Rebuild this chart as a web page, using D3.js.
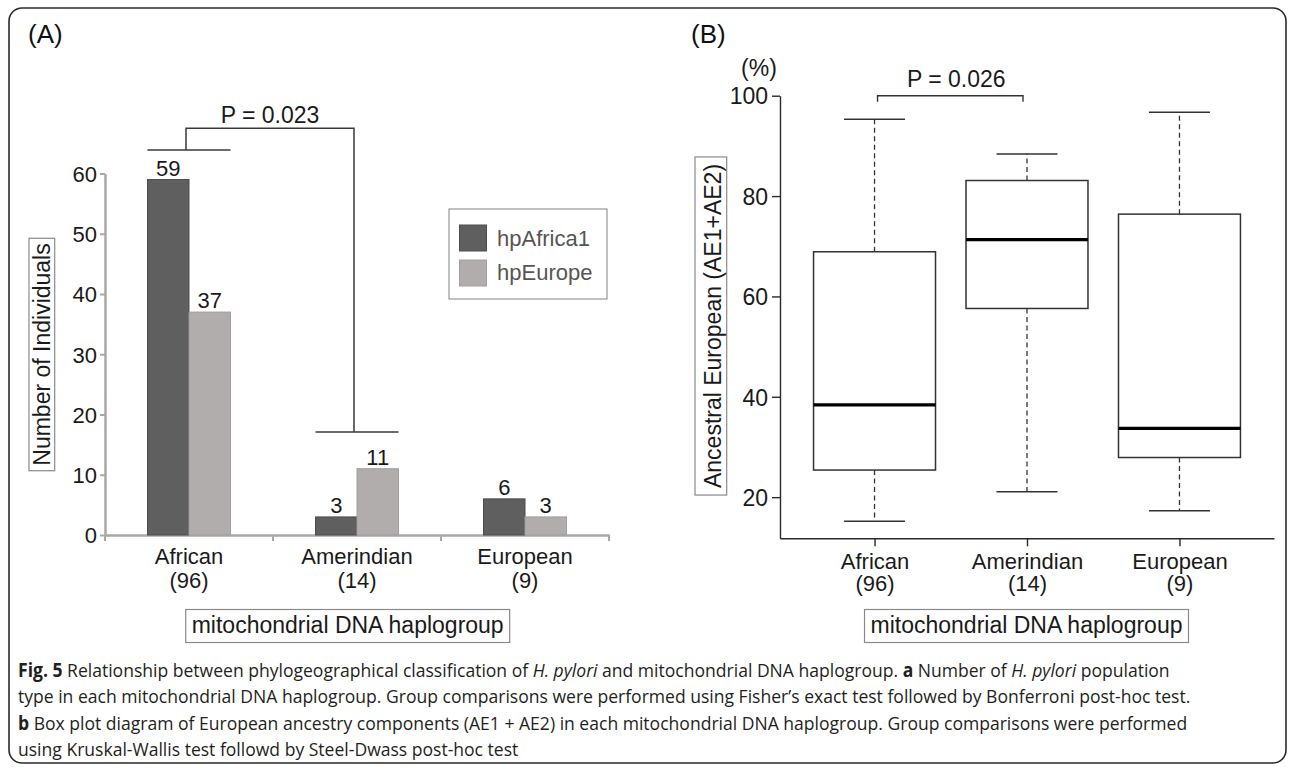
<!DOCTYPE html>
<html><head><meta charset="utf-8">
<script src="https://cdn.jsdelivr.net/npm/d3@7"></script>
<style>
body{margin:0;background:#fff;}
svg{display:block;}
</style></head><body>
<svg id="chart" width="1292" height="770"></svg>
<script>
// ---------- data ----------
const categories = ["African", "Amerindian", "European"];
const groupSizes = [96, 14, 9];
const seriesNames = ["hpAfrica1", "hpEurope"];
const hpAfrica1 = [59, 3, 6];
const hpEurope = [37, 11, 3];
const countTicks = [0, 10, 20, 30, 40, 50, 60];
const pctTicks = [20, 40, 60, 80, 100];
const whiskerLow = [15.2, 21.1, 17.3];
const quart1 = [25.4, 57.6, 27.9];
const medians = [38.4, 71.3, 33.7];
const quart3 = [68.9, 83.1, 76.4];
const whiskerHigh = [95.3, 88.4, 96.7];
const bracketALevels = [63.9, 17.1, 67.5]; // African bar-group, Amerindian group, top
const bracketBLevel = 100;
const pLabelA = "P = 0.023";
const pLabelB = "P = 0.026";
const xTitle = "mitochondrial DNA haplogroup";
const yTitleA = "Number of Individuals";
const yTitleB = "Ancestral European (AE1+AE2)";
const captionLines = [
  [["Fig. 5", "b"], [" Relationship between phylogeographical classification of ", "n"], ["H. pylori", "i"], [" and mitochondrial DNA haplogroup. ", "n"], ["a", "b"], [" Number of ", "n"], ["H. pylori", "i"], [" population", "n"]],
  [["type in each mitochondrial DNA haplogroup. Group comparisons were performed using Fisher\u2019s exact test followed by Bonferroni post-hoc test.", "n"]],
  [["b", "b"], [" Box plot diagram of European ancestry components (AE1 + AE2) in each mitochondrial DNA haplogroup. Group comparisons were performed", "n"]],
  [["using Kruskal-Wallis test followd by Steel-Dwass post-hoc test", "n"]]
];

// ---------- drawing ----------
const FONT = "'Liberation Sans', Arial, Helvetica, sans-serif";
const svg = d3.select("#chart");
svg.append("rect").attr("width", 1292).attr("height", 770).attr("fill", "#fff");
svg.append("rect").attr("x", 9).attr("y", 8).attr("width", 1277).attr("height", 755)
  .attr("rx", 13).attr("fill", "none").attr("stroke", "#2a2a2a").attr("stroke-width", 1.6);

// ===== Panel A =====
const gA = svg.append("g").attr("font-family", FONT);
gA.append("text").attr("x", 28).attr("y", 42.5).attr("font-size", 26).attr("fill", "#111").text("(A)");

const xA = d3.scaleBand().domain(categories).range([105, 609]).paddingInner(0.506).paddingOuter(0.253);
const sub = d3.scaleBand().domain(seriesNames).range([0, xA.bandwidth()]);
const yA = d3.scaleLinear().domain([0, 60]).range([535, 173.5]);
const colA = {hpAfrica1: "#5f5f5f", hpEurope: "#b0adac"};
const strokeA = {hpAfrica1: "#4e4e4e", hpEurope: "#a19e9d"};

// y axis
const yAxA = gA.append("g").attr("transform", "translate(105,0)")
  .call(d3.axisLeft(yA).tickValues(countTicks).tickSize(5).tickSizeOuter(0).tickPadding(3));
yAxA.select(".domain").attr("stroke", "#a8a8a8").attr("stroke-width", 2.5);
yAxA.selectAll(".tick line").attr("stroke", "#a8a8a8").attr("stroke-width", 2);
yAxA.selectAll(".tick text").attr("font-size", 22).attr("fill", "#1a1a1a").attr("font-family", FONT).attr("dy", "0.36em");

// x axis
const xAxA = gA.append("g").attr("transform", "translate(0,535)")
  .call(d3.axisBottom(xA).tickSize(0).tickSizeOuter(0).tickFormat(""));
xAxA.select(".domain").attr("stroke", "#a8a8a8").attr("stroke-width", 2.5);
const gapA = (xA.step() - xA.bandwidth()) / 2;
const boundaries = categories.map(c => xA(c) - gapA).concat([xA(categories[categories.length - 1]) + xA.bandwidth() + gapA]);
xAxA.selectAll(".bnd").data(boundaries).join("line").attr("class", "bnd")
  .attr("x1", d => d).attr("x2", d => d).attr("y1", 0).attr("y2", 6)
  .attr("stroke", "#a8a8a8").attr("stroke-width", 2);
xAxA.selectAll(".tick").each(function(d, i) {
  const t = d3.select(this).select("text").text(null).attr("y", 0).attr("dy", null)
    .attr("font-size", 22).attr("fill", "#1a1a1a").attr("font-family", FONT);
  t.append("tspan").attr("x", 0).attr("y", 29).text(d);
  t.append("tspan").attr("x", 0).attr("y", 52.5).text(`(${groupSizes[i]})`);
});

// bars
const barData = [];
categories.forEach((c, i) => {
  barData.push({cat: c, s: "hpAfrica1", v: hpAfrica1[i]});
  barData.push({cat: c, s: "hpEurope", v: hpEurope[i]});
});
gA.selectAll(".bar").data(barData).join("rect").attr("class", "bar")
  .attr("x", d => xA(d.cat) + sub(d.s)).attr("width", sub.bandwidth())
  .attr("y", d => yA(d.v)).attr("height", d => yA(0) - yA(d.v))
  .attr("fill", d => colA[d.s]).attr("stroke", d => strokeA[d.s]).attr("stroke-width", 1);
gA.selectAll(".vlab").data(barData).join("text").attr("class", "vlab")
  .attr("x", d => xA(d.cat) + sub(d.s) + sub.bandwidth() / 2).attr("y", d => yA(d.v) - 4)
  .attr("text-anchor", "middle").attr("font-size", 22).attr("fill", "#1a1a1a").text(d => d.v);

// bracket A
const c0 = categories[0], c1 = categories[1];
const mid0 = xA(c0) + xA.bandwidth() / 2 - 3, mid1 = xA(c1) + xA.bandwidth() / 2 - 3;
const brA = gA.append("g").attr("stroke", "#3a3a3a").attr("stroke-width", 1.5).attr("fill", "none");
brA.append("line").attr("x1", xA(c0)).attr("x2", xA(c0) + xA.bandwidth()).attr("y1", yA(bracketALevels[0])).attr("y2", yA(bracketALevels[0]));
brA.append("line").attr("x1", xA(c1)).attr("x2", xA(c1) + xA.bandwidth()).attr("y1", yA(bracketALevels[1])).attr("y2", yA(bracketALevels[1]));
brA.append("path").attr("d", `M${mid0},${yA(bracketALevels[0])}V${yA(bracketALevels[2])}H${mid1}V${yA(bracketALevels[1])}`);
gA.append("text").attr("x", (mid0 + mid1) / 2).attr("y", yA(bracketALevels[2]) - 5.5)
  .attr("text-anchor", "middle").attr("font-size", 23).attr("fill", "#1a1a1a").text(pLabelA);

// legend A
const lg = gA.append("g");
lg.append("rect").attr("x", 449).attr("y", 209).attr("width", 158).attr("height", 90)
  .attr("fill", "#fff").attr("stroke", "#a0a0a0").attr("stroke-width", 1.3);
seriesNames.forEach((s, i) => {
  lg.append("rect").attr("x", 459.5).attr("y", 225 + i * 35).attr("width", 27).attr("height", 26)
    .attr("fill", colA[s]).attr("stroke", strokeA[s]).attr("stroke-width", 1);
  lg.append("text").attr("x", 497).attr("y", 246 + i * 34).attr("font-size", 22).attr("fill", "#555").text(s);
});

// y title A
const ytA = gA.append("g").attr("transform", "translate(50,354.5) rotate(-90)");
const ytAText = ytA.append("text").attr("text-anchor", "middle").attr("font-size", 23).attr("fill", "#1a1a1a").text(yTitleA);
{
  const w = ytAText.node().getComputedTextLength();
  ytA.insert("rect", "text").attr("x", -w / 2 - 5).attr("y", -21).attr("width", w + 10).attr("height", 25.7)
    .attr("fill", "#fff").attr("stroke", "#8a8a8a").attr("stroke-width", 1.2);
}

// x title helper
function xTitleBox(g, cx, baseline) {
  const t = g.append("text").attr("x", cx).attr("y", baseline).attr("text-anchor", "middle")
    .attr("font-size", 23).attr("fill", "#1a1a1a").text(xTitle);
  const w = t.node().getComputedTextLength();
  g.insert("rect", "text").attr("x", cx - w / 2 - 6).attr("y", baseline - 23.5).attr("width", w + 12).attr("height", 33)
    .attr("fill", "#fff").attr("stroke", "#8a8a8a").attr("stroke-width", 1.2);
}
xTitleBox(gA.append("g"), 347.7, 633);

// ===== Panel B =====
const gB = svg.append("g").attr("font-family", FONT);
gB.append("text").attr("x", 691).attr("y", 43).attr("font-size", 26).attr("fill", "#111").text("(B)");
gB.append("text").attr("x", 759).attr("y", 75.5).attr("text-anchor", "middle").attr("font-size", 23).attr("fill", "#1a1a1a").text("(%)");

const xB = d3.scalePoint().domain(categories).range([780, 1274]).padding(0.62);
const yB = d3.scaleLinear().domain([11.8, 100]).range([538.3, 95.7]);

const yAxB = gB.append("g").attr("transform", "translate(780,0)")
  .call(d3.axisLeft(yB).tickValues(pctTicks).tickSize(8).tickSizeOuter(0).tickPadding(4));
yAxB.select(".domain").attr("stroke", "#2a2a2a").attr("stroke-width", 1.4);
yAxB.selectAll(".tick line").attr("stroke", "#2a2a2a").attr("stroke-width", 1.4);
yAxB.selectAll(".tick text").attr("font-size", 23).attr("fill", "#1a1a1a").attr("font-family", FONT).attr("dy", "0.36em");

const xAxB = gB.append("g").attr("transform", `translate(0,${yB.range()[0]})`)
  .call(d3.axisBottom(xB).tickSize(8).tickSizeOuter(0));
xAxB.select(".domain").attr("stroke", "#2a2a2a").attr("stroke-width", 1.4);
xAxB.selectAll(".tick line").attr("stroke", "#2a2a2a").attr("stroke-width", 1.4);
xAxB.selectAll(".tick").each(function(d, i) {
  const t = d3.select(this).select("text").text(null).attr("y", 0).attr("dy", null)
    .attr("font-size", 22).attr("fill", "#1a1a1a").attr("font-family", FONT);
  t.append("tspan").attr("x", 0).attr("y", 30.5).text(d);
  t.append("tspan").attr("x", 0).attr("y", 53).text(`(${groupSizes[i]})`);
});

// boxes
const boxW = xB.step() * 0.8, capW = boxW / 2;
const boxes = categories.map((c, i) => ({c, lo: whiskerLow[i], q1: quart1[i], md: medians[i], q3: quart3[i], hi: whiskerHigh[i]}));
const bg = gB.selectAll(".box").data(boxes).join("g").attr("class", "box");
bg.append("line").attr("x1", d => xB(d.c)).attr("x2", d => xB(d.c)).attr("y1", d => yB(d.q3)).attr("y2", d => yB(d.hi))
  .attr("stroke", "#333").attr("stroke-width", 1.3).attr("stroke-dasharray", "5,3.5");
bg.append("line").attr("x1", d => xB(d.c)).attr("x2", d => xB(d.c)).attr("y1", d => yB(d.q1)).attr("y2", d => yB(d.lo))
  .attr("stroke", "#333").attr("stroke-width", 1.3).attr("stroke-dasharray", "5,3.5");
bg.append("line").attr("x1", d => xB(d.c) - capW / 2).attr("x2", d => xB(d.c) + capW / 2).attr("y1", d => yB(d.hi)).attr("y2", d => yB(d.hi))
  .attr("stroke", "#333").attr("stroke-width", 1.5);
bg.append("line").attr("x1", d => xB(d.c) - capW / 2).attr("x2", d => xB(d.c) + capW / 2).attr("y1", d => yB(d.lo)).attr("y2", d => yB(d.lo))
  .attr("stroke", "#333").attr("stroke-width", 1.5);
bg.append("rect").attr("x", d => xB(d.c) - boxW / 2).attr("width", boxW)
  .attr("y", d => yB(d.q3)).attr("height", d => yB(d.q1) - yB(d.q3))
  .attr("fill", "#fff").attr("stroke", "#333").attr("stroke-width", 1.5);
bg.append("line").attr("x1", d => xB(d.c) - boxW / 2).attr("x2", d => xB(d.c) + boxW / 2).attr("y1", d => yB(d.md)).attr("y2", d => yB(d.md))
  .attr("stroke", "#000").attr("stroke-width", 3.2);

// bracket B
const bx0 = xB(categories[0]) + 3, bx1 = xB(categories[1]) - 4, by = yB(bracketBLevel);
gB.append("path").attr("d", `M${bx0},${by + 6}V${by}H${bx1}V${by + 6}`)
  .attr("fill", "none").attr("stroke", "#333").attr("stroke-width", 1.4);
gB.append("text").attr("x", (bx0 + bx1) / 2 + 6).attr("y", 87.3).attr("text-anchor", "middle")
  .attr("font-size", 23).attr("fill", "#1a1a1a").text(pLabelB);

// y title B
const ytB = gB.append("g").attr("transform", "translate(720.5,326) rotate(-90)");
const ytBText = ytB.append("text").attr("text-anchor", "middle").attr("font-size", 23).attr("fill", "#1a1a1a").text(yTitleB);
{
  const w = ytBText.node().getComputedTextLength();
  ytB.insert("rect", "text").attr("x", -w / 2 - 7).attr("y", -25.5).attr("width", w + 14).attr("height", 31.7)
    .attr("fill", "#fff").attr("stroke", "#8a8a8a").attr("stroke-width", 1.2);
}
xTitleBox(gB.append("g"), 1026.5, 633);

// ===== Caption =====
const cap = svg.append("g").attr("font-family", "'Open Sans', 'Noto Sans', sans-serif").attr("font-size", 19).attr("fill", "#231f20");
const baselines = [677, 703.3, 729.6, 755.9];
const capTexts = captionLines.map((segs, li) => {
  const t = cap.append("text").attr("x", 0).attr("y", baselines[li]);
  segs.forEach(([s, st]) => {
    const ts = t.append("tspan").text(s);
    if (st === "b") ts.attr("font-weight", "bold");
    if (st === "i") ts.attr("font-style", "italic");
  });
  return t;
});
const capLeft = 18, capRight = 1191;
const sx = (capRight - capLeft) / capTexts[1].node().getComputedTextLength();
cap.attr("transform", `translate(${capLeft},0) scale(${sx},1)`);
</script>
</body></html>
